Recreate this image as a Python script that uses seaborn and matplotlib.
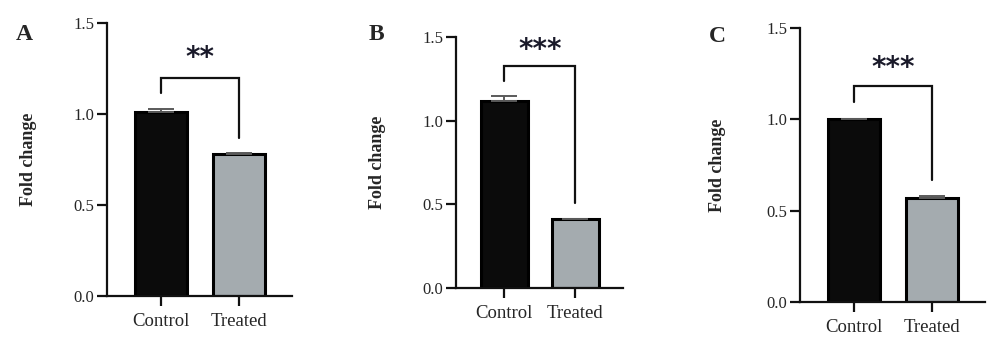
import matplotlib
matplotlib.use("Agg")
import matplotlib.pyplot as plt
import seaborn as sns
import pandas as pd
import numpy as np

sns.set_theme(style="ticks")
plt.rcParams['font.family'] = ['Liberation Serif', 'DejaVu Serif']

# ---- data ----
categories = ["Control", "Treated"]
panel_letters = ["A", "B", "C"]
means_A = [1.01, 0.78]
means_B = [1.12, 0.41]
means_C = [1.00, 0.57]
errors_A = [0.02, 0.004]
errors_B = [0.025, 0.005]
errors_C = [0.004, 0.01]
stars = ["**", "***", "***"]
bracket_top = [1.20, 1.325, 1.18]
bracket_left_end = [1.115, 1.24, 1.095]
bracket_right_end = [0.87, 0.51, 0.67]
star_y = [1.31, 1.42, 1.28]
yticks = [0.0, 0.5, 1.0, 1.5]
ytick_labels = ["0.0", "0.5", "1.0", "1.5"]
bar_colors = ["#0b0b0b", "#a2acb1"]

all_means = [means_A, means_B, means_C]
all_errors = [errors_A, errors_B, errors_C]

fig = plt.figure(figsize=(10, 3.5), dpi=100)
positions = [
    [0.107, 0.154, 0.185, 0.780],
    [0.456, 0.177, 0.167, 0.717],
    [0.800, 0.137, 0.185, 0.783],
]
ylabel_x = [-0.378, -0.419, -0.40]
letter_pos = [(0.024, 0.90), (0.376, 0.90), (0.717, 0.897)]

for i in range(3):
    ax = fig.add_axes(positions[i])
    df = pd.DataFrame({"group": categories, "value": all_means[i]})
    sns.barplot(data=df, x="group", y="value", hue="group", palette=bar_colors,
                order=categories, errorbar=None, width=0.66, legend=False,
                edgecolor="black", linewidth=2.2, ax=ax)
    xs = np.arange(len(categories))
    ax.errorbar(xs, all_means[i], yerr=[np.zeros(len(categories)), all_errors[i]],
                fmt="none", ecolor="#5a5a5a", elinewidth=1.4, capsize=9.5,
                capthick=1.4, zorder=1)
    # significance bracket
    ax.plot([0, 0, 1, 1],
            [bracket_left_end[i], bracket_top[i], bracket_top[i], bracket_right_end[i]],
            color="#111111", lw=1.6, solid_joinstyle="miter", clip_on=False)
    ax.text(0.5, star_y[i], stars[i], ha="center", va="center", fontsize=20,
            fontweight="bold", color="#1a1a2a", family=["DejaVu Sans"])
    ax.set_ylim(0, 1.5)
    ax.set_xlim(-0.68, 1.67)
    ax.set_yticks(yticks)
    ax.set_yticklabels(ytick_labels)
    ax.set_xlabel("")
    ax.set_ylabel("Fold change", fontsize=13, fontweight="bold")
    ax.yaxis.set_label_coords(ylabel_x[i], 0.5)
    for s in ["top", "right"]:
        ax.spines[s].set_visible(False)
    for s in ["left", "bottom"]:
        ax.spines[s].set_linewidth(1.6)
        ax.spines[s].set_color("#111111")
    ax.tick_params(axis="y", length=7, width=1.6, labelsize=12, pad=2, color="#111111")
    ax.tick_params(axis="x", length=7, width=1.6, labelsize=13.5, pad=5, color="#111111")
    ax.set_facecolor("white")
    fig.text(letter_pos[i][0], letter_pos[i][1], panel_letters[i], fontsize=17,
             fontweight="bold", ha="center", va="center")

fig.savefig("out.png", dpi=100, facecolor="white")
